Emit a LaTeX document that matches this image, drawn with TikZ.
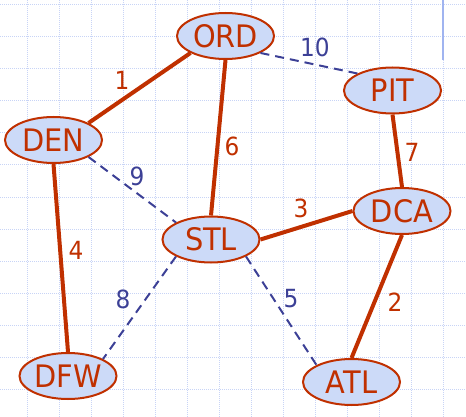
\documentclass[tikz,border=0pt]{standalone}
\usepackage{fontspec}
\setmainfont{DejaVu Sans}[FakeStretch=0.93]
\usetikzlibrary{shapes.geometric}
\definecolor{edgered}{RGB}{192,48,0}
\definecolor{nodefill}{RGB}{204,218,248}
\definecolor{dashblue}{RGB}{60,64,150}
\definecolor{gridblue}{RGB}{200,212,246}
\definecolor{barblue}{RGB}{160,180,240}
\tikzset{
	airport/.style={ellipse,draw=edgered,line width=2pt,fill=nodefill,text=edgered,
		minimum width=97pt,minimum height=46pt,inner sep=0pt,font=\fontsize{31}{33}\selectfont},
	treeedge/.style={edgered,line width=4pt},
	otheredge/.style={dashblue,line width=2pt,dash pattern=on 9pt off 6pt},
	redlab/.style={text=edgered,font=\fontsize{25}{27}\selectfont},
	bluelab/.style={text=dashblue,font=\fontsize{25}{27}\selectfont},
	gridline/.style={gridblue,line width=1pt,dash pattern=on 1pt off 1pt}
}
\begin{document}
\begin{tikzpicture}[x=1pt,y=-1pt]
	\useasboundingbox (0,0) rectangle (466,417);
	\foreach \x in {27,59,...,443} \draw[gridline] (\x,0)--(\x,417);
	\foreach \y in {5,37,...,389} \draw[gridline] (0,\y)--(466,\y);
	\draw[barblue,line width=2pt] (443,0)--(443,60);
	\node[airport] (ORD) at (225.5,36) {ORD};
	\node[airport] (PIT) at (392.5,90.5) {PIT};
	\node[airport] (DEN) at (53.5,140) {DEN};
	\node[airport] (DCA) at (402,211) {DCA};
	\node[airport] (STL) at (211,239.5) {STL};
	\node[airport] (DFW) at (68,376) {DFW};
	\node[airport] (ATL) at (351.5,382) {ATL};
	\draw[treeedge] (DEN.north east)--(ORD.south west);
	\draw[treeedge] (ORD.south)--(STL.north);
	\draw[treeedge] (PIT.south)--(DCA.north);
	\draw[treeedge] (STL.east)--(DCA.west);
	\draw[treeedge] (DEN.south)--(DFW.north);
	\draw[treeedge] (DCA.south)--(ATL.north);
	\draw[otheredge] (ORD.south east)--(PIT.north west);
	\draw[otheredge] (DEN.south east)--(STL.north west);
	\draw[otheredge] (STL.south west)--(DFW.north east);
	\draw[otheredge] (STL.south east)--(ATL.north west);
	\node[redlab] (w1) at (122,80) {1};
	\node[redlab] (w2) at (395,302) {2};
	\node[redlab] (w3) at (301,208) {3};
	\node[redlab] (w4) at (76,250) {4};
	\node[bluelab] (w5) at (291,299) {5};
	\node[redlab] (w6) at (232,146) {6};
	\node[redlab] (w7) at (412,152) {7};
	\node[bluelab] (w8) at (123,299) {8};
	\node[bluelab] (w9) at (137,176) {9};
	\node[bluelab] (w10) at (315,47) {10};
\end{tikzpicture}
\end{document}
